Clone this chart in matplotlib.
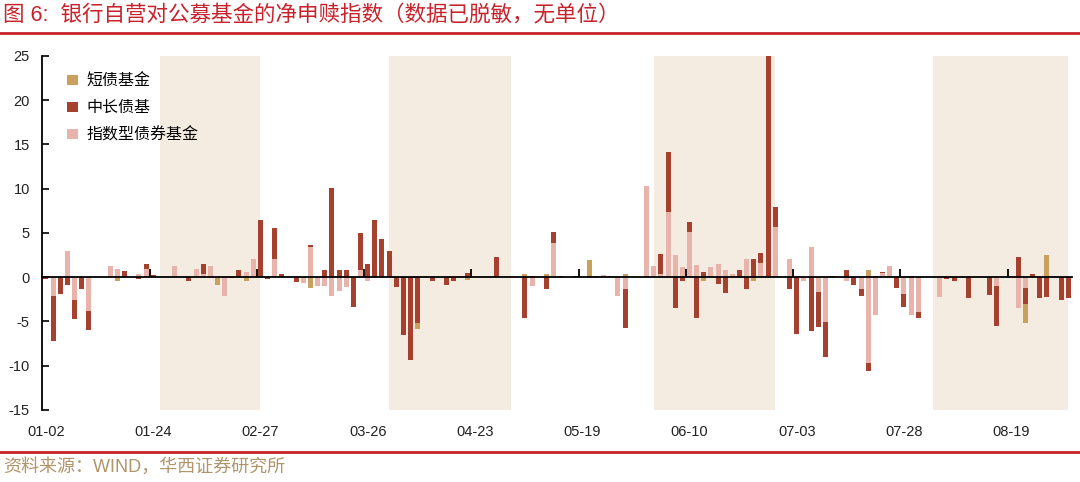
import numpy as np
import matplotlib
matplotlib.use("Agg")
import matplotlib.pyplot as plt
from matplotlib.lines import Line2D

plt.rcParams["font.family"] = ["Liberation Sans", "Noto Sans CJK SC"]
plt.rcParams["axes.unicode_minus"] = False

# x labels every 15 trading days
tick_labels = ["01-02", "01-24", "02-27", "03-26", "04-23",
               "05-19", "06-10", "07-03", "07-28", "08-19"]

# shaded periods, in category indices
shade_spans = [(16, 30), (48, 65), (85, 102), (124, 143)]

# 指数型债券基金
index_fund = [
	0, -2.1, 0, 3.0, -2.6, 0, -3.8, 0, 0, 1.24, 0.87, 0,
	0, 0.38, 0.94, 0, 0, 0, 1.24, 0, 0, 0.87, 0.4, 1.24,
	0, -2.1, 0, 0, 0.6, 2.1, 0, 0, 2.1, 0, 0, 0,
	-0.7, 3.35, -1.0, -1.0, -2.1, -1.6, -1.13, 0, 0.83, -0.45, 0, 0,
	0, 0, 0, 0, 0, 0, 0, 0, 0, 0, 0.18, 0,
	0, 0, 0, 0, 0, 0, 0, 0, -0.97, 0, 0, 3.8,
	0, 0, 0, 0, 0, 0, 0.2, 0, -2.1, -1.35, 0, 0,
	10.3, 1.28, 0.3, 7.3, 2.5, 1.2, 5.1, 1.35, 0, 1.2, 1.45, 0.85,
	0.3, 0, 2.1, 0, 1.65, 0, 5.7, 0, 2.1, 0, -0.38, 3.35,
	-1.73, -5.1, 0, 0, -0.4, 0, -1.35, -9.65, -4.3, 0.45, 1.24, 0,
	-1.96, -4.3, -3.97, 0, 0, -2.22, 0, 0, 0, 0, 0, 0,
	0, -0.97, 0, 0, -3.46, -1.26, 0, 0, 0, 0, 0, 0,
]

# 中长债基
mid_long = [
	-0.2, -5.1, -1.9, -0.9, -2.1, -1.3, -2.2, 0, 0, 0, 0, 0.64,
	0, -0.26, 0.52, 0.2, 0, 0, 0, 0, -0.4, 0, 1.05, 0,
	0, 0, -0.1, 0.83, 0, 0, 6.4, -0.22, 3.4, 0.36, 0, -0.5,
	0, 0.23, 0, 0.83, 10.05, 0.83, 0.83, -3.4, 4.15, 1.43, 6.4, 4.28,
	3.0, -1.12, -6.5, -9.4, -5.2, 0, -0.4, 0, -0.85, -0.45, 0, 0.42,
	0, 0, 0, 2.28, 0, 0, 0, -4.6, 0.15, 0, -1.35, 1.3,
	0.12, 0, 0.12, 0, 0.1, 0.12, 0, 0.12, 0, -4.35, 0, 0,
	0, 0, 2.33, 6.85, -3.5, -0.42, 1.15, -4.67, 0.62, 0, -0.83, -1.8,
	0, 0.83, -1.35, 2.1, 1.1, 25.0, 2.24, 0, -1.35, -6.4, 0, -6.1,
	-3.85, -3.97, 0.15, 0, 0.83, -0.88, -0.75, -1.0, 0.1, 0.15, 0, -1.26,
	-1.44, 0.12, -0.68, 0, 0, 0, -0.22, -0.41, 0, -2.3, 0, 0,
	-1.98, -4.53, 0, 0, 2.3, -1.82, 0.36, -2.3, -2.2, 0, -2.6, -2.3,
]

# 短债基金
short_bond = [
	0, 0, 0, 0, 0, 0, 0, 0, 0, 0, -0.38, 0,
	0, 0, 0, 0, 0, 0, 0, 0, 0, 0, 0, 0,
	-0.9, 0, 0, 0, -0.38, 0, 0, 0, 0, 0, 0, 0,
	0, -1.28, 0, 0, 0, 0, 0, 0, 0, 0, 0, 0,
	0, 0, 0, 0, -0.6, 0, 0, 0, 0, 0, 0, -0.3,
	0, 0, 0, 0, 0, 0, 0, 0.32, 0, 0, 0.32, 0,
	0, 0, 0, 0, 1.85, 0, 0, 0, 0, 0.32, 0, 0,
	0, 0, 0, 0, 0, 0, 0, 0, -0.42, 0, 0, 0,
	0, 0, 0, -0.4, 0, 0, 0, 0, 0, 0, 0, 0,
	0, 0, 0, 0, 0, 0, 0, 0.83, 0, 0, 0, 0,
	0, 0, 0, 0, 0, 0, 0, 0, 0, 0, 0, 0,
	0, 0, 0, 0, 0, -2.15, 0, 0, 2.5, 0, 0, 0,
]

PINK = "#E8B3AA"
RED = "#A6412F"
GOLD = "#C9A05E"
SHADE = "#F4ECE0"
TITLE_RED = "#C8232C"

n = len(mid_long)
x = np.arange(n)

fig = plt.figure(figsize=(10.8, 4.82), dpi=100)
ax = fig.add_axes([0.0392, 0.1494, 0.9534, 0.7350])
lab = ax.twiny()

for s, e in shade_spans:
	ax.axvspan(s, e, color=SHADE, lw=0, zorder=0)

# stack outwards from zero: index funds, mid/long, short
pos_base = np.zeros(n)
neg_base = np.zeros(n)
bars = {}
for vals, name, color in [(index_fund, "指数型债券基金", PINK),
                          (mid_long, "中长债基", RED),
                          (short_bond, "短债基金", GOLD)]:
	v = np.asarray(vals, dtype=float)
	base = np.where(v >= 0, pos_base, neg_base)
	bars[name] = ax.bar(x, v, bottom=base, width=0.7, color=color, lw=0, zorder=2)
	pos_base += np.clip(v, 0, None)
	neg_base += np.clip(v, None, 0)

ax.set_xlim(-0.5, n - 0.5)
ax.set_ylim(-15, 25)
ax.set_yticks(range(-15, 30, 5))

for side in ("top", "right"):
	ax.spines[side].set_visible(False)
ax.spines["bottom"].set_position(("data", 0))
ax.spines["bottom"].set_linewidth(1.3)
ax.spines["left"].set_linewidth(1.3)

ax.set_xticks(np.arange(15, n, 15) - 0.5)
ax.tick_params(axis="x", direction="in", length=6, width=1.3, labelbottom=False)
ax.tick_params(axis="y", direction="in", length=5, width=1.2, pad=9,
               labelsize=10.5, labelcolor="#222222")

# labels along the bottom of the plot
lab.set_xlim(ax.get_xlim())
lab.set_xticks(np.arange(0, n, 15))
lab.set_xticklabels(tick_labels)
lab.xaxis.set_ticks_position("bottom")
lab.tick_params(axis="x", length=0, pad=11, labelsize=10.5, labelcolor="#222222")
for sp in lab.spines.values():
	sp.set_visible(False)

leg_names = ["短债基金", "中长债基", "指数型债券基金"]
ax.legend([bars[k] for k in leg_names], leg_names, loc="upper left",
          bbox_to_anchor=(0.01, 0.99), frameon=False, fontsize=11.5,
          handlelength=0.7, handleheight=0.6, handletextpad=0.5,
          labelspacing=0.72)

fig.text(0.003, 0.969, "图 6:  银行自营对公募基金的净申赎指数（数据已脱敏，无单位）",
         color=TITLE_RED, fontsize=15.5, va="center", ha="left")
fig.add_artist(Line2D([0, 1], [0.931, 0.931], color=TITLE_RED, lw=2,
                      transform=fig.transFigure))
fig.add_artist(Line2D([0, 1], [0.062, 0.062], color=TITLE_RED, lw=2,
                      transform=fig.transFigure))
fig.text(0.003, 0.031, "资料来源：WIND，华西证券研究所", color="#B0946A",
         fontsize=13, va="center", ha="left")

fig.savefig("out.png", dpi=100)
